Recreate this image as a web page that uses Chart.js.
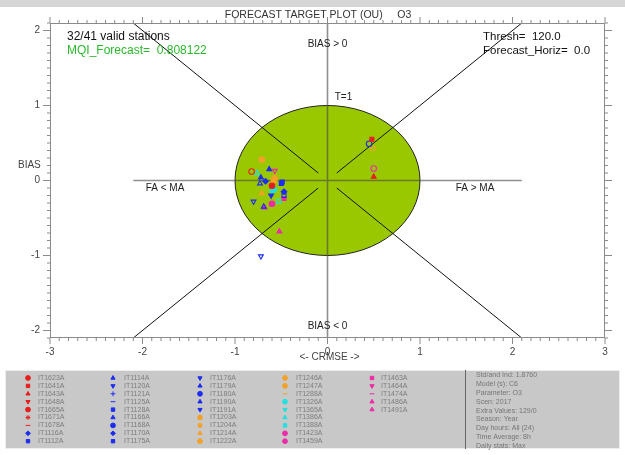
<!DOCTYPE html>
<html>
<head>
<meta charset="utf-8">
<script src="https://cdn.jsdelivr.net/npm/chart.js@4/dist/chart.umd.min.js"></script>
<style>
  html, body { margin: 0; padding: 0; background: #ffffff; }
  #wrap { width: 625px; height: 455px; }
</style>
</head>
<body>
<div id="wrap"><canvas id="c" width="625" height="455"></canvas></div>
<script>
// Stations (legend order) and their target-plot coordinates: CRMSE (x) and BIAS (y).
// null = station without valid data.
const stations = [
  'IT1623A','IT1641A','IT1643A','IT1648A','IT1665A','IT1671A','IT1678A','IT1116A','IT1112A',
  'IT1114A','IT1120A','IT1121A','IT1125A','IT1128A','IT1166A','IT1168A','IT1170A','IT1175A',
  'IT1176A','IT1179A','IT1180A','IT1190A','IT1191A','IT1203A','IT1204A','IT1214A','IT1222A',
  'IT1246A','IT1247A','IT1288A','IT1326A','IT1365A','IT1386A','IT1388A','IT1423A','IT1459A',
  'IT1463A','IT1464A','IT1474A','IT1486A','IT1491A'
];
const crmse = [
  -0.82, 0.48, 0.50, null, -0.60, null, null, -0.47, -0.49,
  -0.63, -0.80, null, null, -0.47, -0.69, 0.45, -0.67, -0.50,
  -0.72, -0.72, null, -0.73, -0.61, -0.71, 0.49, -0.71, -0.58,
  null, -0.57, null, -0.58, -0.60, -0.76, -0.53, 0.50, -0.60,
  -0.47, -0.57, null, -0.68, -0.52
];
const bias = [
  0.12, 0.55, 0.05, null, -0.07, null, null, -0.15, -0.02,
  0.15, -0.28, null, null, -0.20, -0.35, 0.49, -0.01, -0.04,
  -1.01, 0.04, null, -0.04, -0.20, 0.28, 0.43, -0.17, 0.00,
  null, 0.03, null, -0.12, -0.15, 0.10, -0.28, 0.16, -0.31,
  -0.24, 0.13, null, -0.36, -0.68
];
// Colour group and marker of each station
const groupOf = [
  'r','r','r','r','r','r','r','b','b',
  'b','b','b','b','b','b','b','b','b',
  'b','b','b','b','b','o','o','o','o',
  'o','o','o','c','c','c','c','m','m',
  'm','m','m','m','m'
];
const markerOf = [
  'circle','rect','triangle','down','circle','star','line','rectRot','rect',
  'triangle','down','cross','line','rect','triangle','circle','rectRot','rect',
  'down','triangle','circle','triangle','down','circle','rect','triangle','circle',
  'circle','circle','line','circle','down','triangle','rect','circle','circle',
  'rect','down','line','triangle','triangle'
];
const filledOf = [
  0,1,1,1,1,1,1,1,1,
  1,0,1,1,0,0,0,1,1,
  0,1,1,0,1,1,0,1,1,
  1,1,1,1,0,0,0,0,1,
  1,0,1,1,1
];
const groupColors = { r: '#e81e1e', b: '#1e2cf0', o: '#f2a228', c: '#22e0e0', m: '#ee2aa8' };

const xTicks = [-3, -2, -1, 0, 1, 2, 3];
const yTicks = [-2, -1, 0, 1, 2];
const title = 'FORECAST TARGET PLOT (OU)     O3';
const validText = '32/41 valid stations';
const mqiText = 'MQI_Forecast=  0.808122';
const threshText = 'Thresh=  120.0';
const horizText = 'Forecast_Horiz=  0.0';
const infoLines = [
  'Std/and Ind: 1.8760', 'Model (s): C6', 'Parameter: O3', 'Scen: 2017',
  'Extra Values: 129/0', 'Season: Year', 'Day hours: All (24)', 'Time Average: 8h',
  'Daily stats: Max'
];

const FONT = '"Liberation Sans", Arial, sans-serif';

const datasets = stations.map((name, i) => {
  const col = groupColors[groupOf[i]];
  const isDown = markerOf[i] === 'down';
  return {
    label: name,
    data: crmse[i] === null ? [] : [{ x: crmse[i], y: bias[i] }],
    pointStyle: isDown ? 'triangle' : markerOf[i],
    rotation: isDown ? 180 : 0,
    pointRadius: 2.8,
    borderColor: col,
    backgroundColor: filledOf[i] ? col : 'rgba(0,0,0,0)',
    borderWidth: 1.1
  };
});

function text(ctx, s, x, y, size, color, align) {
  ctx.font = size + 'px ' + FONT;
  ctx.fillStyle = color;
  ctx.textAlign = align || 'left';
  ctx.textBaseline = 'middle';
  ctx.fillText(s, x, y);
}

const targetPlot = {
  id: 'targetPlot',
  beforeDatasetsDraw(chart) {
    const ctx = chart.ctx, xs = chart.scales.x, ys = chart.scales.y, a = chart.chartArea;
    const px = v => xs.getPixelForValue(v), py = v => ys.getPixelForValue(v);
    ctx.save();
    // unit circle (target)
    ctx.beginPath();
    ctx.ellipse(px(0), py(0), px(1) - px(0), py(0) - py(1), 0, 0, Math.PI * 2);
    ctx.fillStyle = '#99c800';
    ctx.fill();
    ctx.lineWidth = 1;
    ctx.strokeStyle = '#222';
    ctx.stroke();
    // diagonals
    ctx.strokeStyle = '#111';
    ctx.lineWidth = 1;
    [[1, 1], [1, -1], [-1, 1], [-1, -1]].forEach(([sx, sy]) => {
      ctx.beginPath();
      ctx.moveTo(px(0.1 * sx), py(0.1 * sy));
      ctx.lineTo(px(2.1 * sx), py(2.1 * sy));
      ctx.stroke();
    });
    // axes through the origin
    ctx.strokeStyle = 'rgba(70,70,70,0.6)';
    ctx.lineWidth = 1.6;
    ctx.beginPath();
    ctx.moveTo(px(-2.1), py(0)); ctx.lineTo(px(2.1), py(0));
    ctx.moveTo(px(0), a.top); ctx.lineTo(px(0), a.bottom);
    ctx.stroke();
    // quadrant labels
    text(ctx, 'BIAS > 0', px(0), 44, 10, '#222', 'center');
    text(ctx, 'BIAS < 0', px(0), 326, 10, '#222', 'center');
    text(ctx, 'T=1', px(0) + 16, 97, 10, '#222', 'center');
    text(ctx, 'FA < MA', 165, 188, 10, '#222', 'center');
    text(ctx, 'FA > MA', 475, 188, 10, '#222', 'center');
    ctx.restore();
  },
  afterDraw(chart) {
    const ctx = chart.ctx, xs = chart.scales.x, ys = chart.scales.y, a = chart.chartArea;
    const px = v => xs.getPixelForValue(v), py = v => ys.getPixelForValue(v);
    ctx.save();
    // top band
    ctx.fillStyle = '#d6d6d6';
    ctx.fillRect(0, 0, 625, 7);
    // frame
    ctx.strokeStyle = '#8a8a8a';
    ctx.lineWidth = 1;
    ctx.strokeRect(a.left + 0.5, a.top + 0.5, a.right - a.left - 1, a.bottom - a.top - 1);
    // ticks (minor every 0.1, major at integers)
    ctx.beginPath();
    for (let k = -30; k <= 30; k++) {
      const v = k / 10, x = px(v), len = (k % 10 === 0) ? 6 : 3;
      ctx.moveTo(x, a.bottom); ctx.lineTo(x, a.bottom + len);
      ctx.moveTo(x, a.top); ctx.lineTo(x, a.top - len);
    }
    for (let k = -21; k <= 21; k++) {
      const v = k / 10, y = py(v), len = (k % 10 === 0) ? 7 : 3;
      ctx.moveTo(a.left, y); ctx.lineTo(a.left - len, y);
      ctx.moveTo(a.right, y); ctx.lineTo(a.right + len, y);
    }
    ctx.stroke();
    // tick labels
    xTicks.forEach(v => text(ctx, String(v), px(v), 352, 10, '#444', 'center'));
    yTicks.forEach(v => text(ctx, String(v), 40, py(v), 10, '#444', 'right'));
    text(ctx, '<- CRMSE ->', px(0) + 2, 357, 10, '#444', 'center');
    text(ctx, 'BIAS', 18, 165, 10, '#444', 'left');
    // title and annotations
    text(ctx, title, 318, 15, 10.5, '#333', 'center');
    text(ctx, validText, 67, 37, 12, '#111', 'left');
    text(ctx, mqiText, 67, 51, 12, '#2cb82c', 'left');
    text(ctx, threshText, 483, 37, 11.5, '#111', 'left');
    text(ctx, horizText, 483, 51, 11.5, '#111', 'left');

    // legend panel
    ctx.fillStyle = '#c8c8c8';
    ctx.fillRect(5, 370, 615, 79);
    ctx.strokeStyle = '#eeeeee';
    ctx.strokeRect(5.5, 370.5, 614, 78);
    ctx.strokeStyle = '#666';
    ctx.beginPath(); ctx.moveTo(465.5, 370); ctx.lineTo(465.5, 449); ctx.stroke();
    const mx = [28, 113, 200, 285, 372], tx = [38, 124, 210, 296, 381];
    stations.forEach((name, i) => {
      const c = Math.floor(i / 9), r = i % 9, y = 378 + r * 7.9;
      const col = groupColors[groupOf[i]];
      const isDown = markerOf[i] === 'down';
      ctx.fillStyle = col; ctx.strokeStyle = col; ctx.lineWidth = 1;
      Chart.helpers.drawPoint(ctx, {
        pointStyle: isDown ? 'triangle' : markerOf[i],
        radius: 2.4, rotation: isDown ? 180 : 0, borderWidth: 1
      }, mx[c], y);
      text(ctx, name, tx[c], y, 7, '#7e7e7e', 'left');
    });
    infoLines.forEach((s, r) => text(ctx, s, 476, 375 + r * 8.9, 7, '#767676', 'left'));
    ctx.restore();
  }
};

new Chart(document.getElementById('c'), {
  type: 'scatter',
  data: { datasets },
  options: {
    responsive: false,
    devicePixelRatio: 1,
    animation: false,
    layout: { padding: { left: 50, right: 20, top: 23, bottom: 117 } },
    plugins: { legend: { display: false }, tooltip: { enabled: false }, title: { display: false } },
    scales: {
      x: { type: 'linear', min: -3, max: 3, display: false },
      y: { type: 'linear', min: -2.1, max: 2.1, display: false }
    }
  },
  plugins: [targetPlot]
});
</script>
</body>
</html>
